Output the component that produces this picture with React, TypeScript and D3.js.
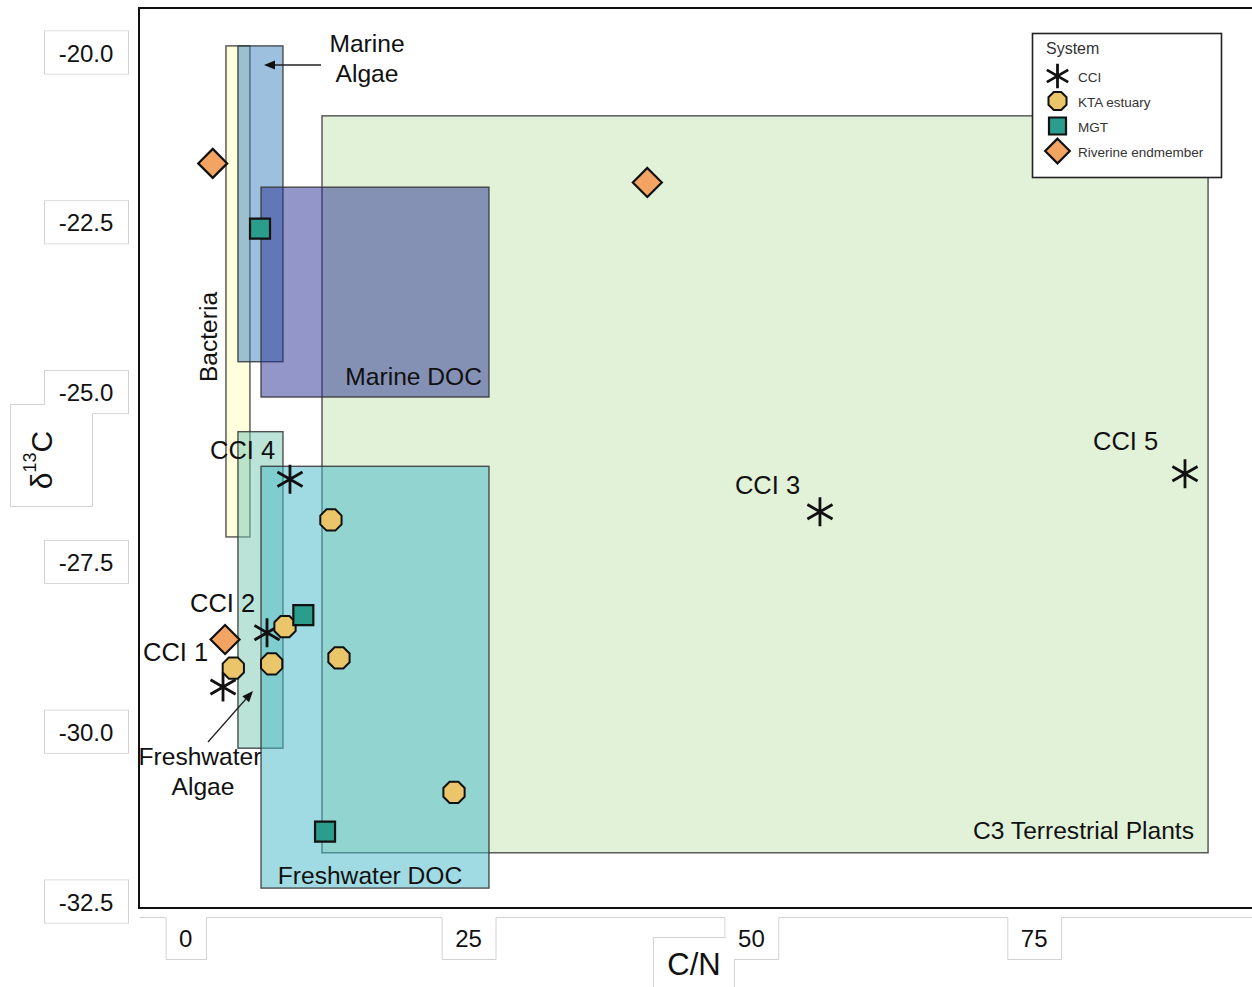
import React from "react";
import * as d3 from "d3";

// ---------- data ----------
const xTicks = [0, 25, 50, 75];
const yTicks = [-20, -22.5, -25, -27.5, -30, -32.5];

const sourceNames = ["C3 Terrestrial Plants", "Bacteria", "Freshwater Algae", "Marine Algae", "Marine DOC", "Freshwater DOC"];
const sourceCNMin = [12.04, 3.55, 4.61, 4.61, 6.65, 6.65];
const sourceCNMax = [90.37, 5.67, 8.59, 8.59, 26.8, 26.8];
const sourceD13CMax = [-20.94, -19.91, -25.59, -19.91, -21.99, -26.1];
const sourceD13CMin = [-31.79, -27.14, -30.25, -24.56, -25.08, -32.31];

const cciLabels = ["CCI 1", "CCI 2", "CCI 3", "CCI 4", "CCI 5"];
const cciCN = [3.29, 7.18, 56.06, 9.21, 88.33];
const cciD13C = [-29.35, -28.55, -26.77, -26.29, -26.21];

const ktaCN = [4.2, 7.59, 8.77, 12.83, 13.54, 23.71];
const ktaD13C = [-29.07, -29.01, -28.46, -26.89, -28.92, -30.9];

const mgtCN = [6.56, 10.39, 12.31];
const mgtD13C = [-22.6, -28.29, -31.48];

const rivCN = [2.38, 40.8, 3.47];
const rivD13C = [-21.64, -21.92, -28.65];

const legendNames = ["CCI", "KTA estuary", "MGT", "Riverine endmember"];

// ---------- styles ----------
const FONT = "'Liberation Sans', Arial, Helvetica, sans-serif";
const sourceFill: Record<string, [string, number]> = {
  "C3 Terrestrial Plants": ["#e2f2d8", 1],
  Bacteria: ["rgb(255,255,195)", 0.55],
  "Freshwater Algae": ["rgb(120,200,175)", 0.5],
  "Marine Algae": ["rgb(60,130,190)", 0.5],
  "Marine DOC": ["rgb(40,45,145)", 0.5],
  "Freshwater DOC": ["rgb(72,184,199)", 0.52],
};
const cciLabelOffset = [
  [-80, -35],
  [-77, -30],
  [-85, -27],
  [-80, -29],
  [-92, -33],
];
const KTA_FILL = "#ebc56a";
const MGT_FILL = "#2a9d8c";
const RIV_FILL = "#f4a462";
const BOX_STROKE = "#d2d2d2";
const LABEL_SIZE = 24.6;

// ---------- scales ----------
const W = 1252;
const H = 987;
const x = d3.scaleLinear().domain([0, 75]).range([185.8, 1034.2]);
const y = d3.scaleLinear().domain([-20, -32.5]).range([52, 901]);

const PLOT_L = 139;
const PLOT_T = 8;
const PLOT_B = 908;

// ---------- marker helpers ----------
function asteriskPath(r: number) {
  const p = d3.path();
  [90, 30, -30].forEach((deg) => {
    const a = (deg * Math.PI) / 180;
    p.moveTo(-r * Math.cos(a), -r * Math.sin(a));
    p.lineTo(r * Math.cos(a), r * Math.sin(a));
  });
  return p.toString();
}
function octagonPath(r: number) {
  const pts = d3.range(8).map((i) => {
    const a = ((22.5 + 45 * i) * Math.PI) / 180;
    return [r * Math.cos(a), r * Math.sin(a)] as [number, number];
  });
  return d3.line()(pts.concat([pts[0]])) + "Z";
}
function squarePath(s: number) {
  const h = s / 2;
  return `M${-h},${-h}H${h}V${h}H${-h}Z`;
}
function diamondPath(r: number) {
  return `M0,${-r}L${r},0L0,${r}L${-r},0Z`;
}

function Marker({ kind, cx, cy, scale = 1 }: { kind: string; cx: number; cy: number; scale?: number }) {
  if (kind === "CCI")
    return <path d={asteriskPath(14.5 * scale)} transform={`translate(${cx},${cy})`} stroke="#111" strokeWidth={2.8} fill="none" />;
  if (kind === "KTA estuary")
    return <path d={octagonPath(11.5 * scale)} transform={`translate(${cx},${cy})`} fill={KTA_FILL} stroke="#111" strokeWidth={2} />;
  if (kind === "MGT")
    return <path d={squarePath(20 * scale)} transform={`translate(${cx},${cy})`} fill={MGT_FILL} stroke="#111" strokeWidth={2.2} />;
  return <path d={diamondPath(14.5 * scale)} transform={`translate(${cx},${cy})`} fill={RIV_FILL} stroke="#111" strokeWidth={2.2} />;
}

function Arrow({ x1, y1, x2, y2 }: { x1: number; y1: number; x2: number; y2: number }) {
  const a = Math.atan2(y2 - y1, x2 - x1);
  const L = 11;
  const Wd = 4.5;
  const bx = x2 - L * Math.cos(a);
  const by = y2 - L * Math.sin(a);
  const px = -Math.sin(a) * Wd;
  const py = Math.cos(a) * Wd;
  return (
    <g>
      <line x1={x1} y1={y1} x2={bx} y2={by} stroke="#222" strokeWidth={1.3} />
      <path d={`M${x2},${y2}L${bx + px},${by + py}L${bx - px},${by - py}Z`} fill="#111" />
    </g>
  );
}

export default function App() {
  // x tick boxes
  const xBoxes = xTicks.map((t) => {
    const w = String(t).length * 13.4 + 27;
    return { t, l: x(t) - w / 2, r: x(t) + w / 2 };
  });
  const XB_T = 917;
  const XB_B = 959;
  let xStrip = `M${PLOT_L},${XB_T}`;
  xBoxes.forEach((b) => {
    xStrip += `H${b.l}V${XB_B}H${b.r}V${XB_T}`;
  });
  xStrip += `H${W + 10}`;
  const box50 = xBoxes[2];

  // y tick boxes
  const yBoxes = yTicks.map((t) => ({ t, x: 44, y: y(t) - 21.5, w: 84, h: 43 }));
  const dBox = { x: 10, y: 404, w: 82, h: 102 };

  const sources = sourceNames.map((n, i) => ({
    n,
    x0: x(sourceCNMin[i]),
    x1: x(sourceCNMax[i]),
    y0: y(sourceD13CMax[i]),
    y1: y(sourceD13CMin[i]),
  }));

  return (
    <svg width={W} height={H} style={{ position: "absolute", left: 0, top: 0, background: "#fff" }} fontFamily={FONT}>
      <rect x={0} y={0} width={W} height={H} fill="#fff" />

      {/* y tick boxes: strokes then fills (union outline) */}
      {[...yBoxes, dBox].map((b, i) => (
        <rect key={"ys" + i} x={b.x + 0.5} y={b.y + 0.5} width={b.w} height={b.h} fill="none" stroke={BOX_STROKE} strokeWidth={1} />
      ))}
      {[...yBoxes, dBox].map((b, i) => (
        <rect key={"yf" + i} x={b.x + 1} y={b.y + 1} width={b.w - 1} height={b.h - 1} fill="#fff" />
      ))}
      {yTicks.map((t) => (
        <text key={"yt" + t} x={86} y={y(t) + 1} textAnchor="middle" dominantBaseline="central" fontSize={24} fill="#111">
          {t.toFixed(1)}
        </text>
      ))}
      <text transform={`translate(41,460) rotate(-90)`} textAnchor="middle" dominantBaseline="central" fontSize={30} fill="#111">
        δ<tspan fontSize={18} dy={-11}>13</tspan>
        <tspan dy={11}>C</tspan>
      </text>

      {/* x tick boxes */}
      <path d={xStrip} fill="none" stroke={BOX_STROKE} strokeWidth={1} transform="translate(0.5,0.5)" />
      <rect x={653.5} y={937.5} width={81} height={70} fill="#fff" stroke={BOX_STROKE} strokeWidth={1} />
      <rect x={box50.l + 1.2} y={XB_T - 1} width={box50.r - box50.l - 1.4} height={XB_B - XB_T + 1} fill="#fff" />
      {xTicks.map((t) => (
        <text key={"xt" + t} x={x(t)} y={938} textAnchor="middle" dominantBaseline="central" fontSize={24} fill="#111">
          {t}
        </text>
      ))}
      <text x={694} y={964} textAnchor="middle" dominantBaseline="central" fontSize={31} fill="#111">
        C/N
      </text>

      {/* source boxes */}
      {sources.map((s) => (
        <rect
          key={s.n}
          x={s.x0}
          y={s.y0}
          width={s.x1 - s.x0}
          height={s.y1 - s.y0}
          fill={sourceFill[s.n][0]}
          fillOpacity={sourceFill[s.n][1]}
          stroke="#333"
          strokeOpacity={0.85}
          strokeWidth={1.4}
        />
      ))}

      {/* plot frame */}
      <path d={`M${W + 10},${PLOT_T}H${PLOT_L}V${PLOT_B}H${W + 10}`} fill="none" stroke="#111" strokeWidth={2} />

      {/* source labels */}
      <text x={367} y={43} textAnchor="middle" dominantBaseline="central" fontSize={LABEL_SIZE} fill="#111">Marine</text>
      <text x={367} y={73} textAnchor="middle" dominantBaseline="central" fontSize={LABEL_SIZE} fill="#111">Algae</text>
      <Arrow x1={321} y1={65} x2={264} y2={65} />
      <text transform={`translate(208,337) rotate(-90)`} textAnchor="middle" dominantBaseline="central" fontSize={LABEL_SIZE} fill="#111">
        Bacteria
      </text>
      <text x={482} y={376} textAnchor="end" dominantBaseline="central" fontSize={LABEL_SIZE} fill="#111">Marine DOC</text>
      <text x={200} y={756} textAnchor="middle" dominantBaseline="central" fontSize={LABEL_SIZE} fill="#111">Freshwater</text>
      <text x={203} y={786} textAnchor="middle" dominantBaseline="central" fontSize={LABEL_SIZE} fill="#111">Algae</text>
      <Arrow x1={208} y1={742} x2={253} y2={691} />
      <text x={370} y={875} textAnchor="middle" dominantBaseline="central" fontSize={LABEL_SIZE} fill="#111">Freshwater DOC</text>
      <text x={1194} y={830} textAnchor="end" dominantBaseline="central" fontSize={LABEL_SIZE} fill="#111">C3 Terrestrial Plants</text>

      {/* points */}
      {cciCN.map((v, i) => (
        <Marker key={"c" + i} kind="CCI" cx={x(v)} cy={y(cciD13C[i])} />
      ))}
      {ktaCN.map((v, i) => (
        <Marker key={"k" + i} kind="KTA estuary" cx={x(v)} cy={y(ktaD13C[i])} />
      ))}
      {mgtCN.map((v, i) => (
        <Marker key={"m" + i} kind="MGT" cx={x(v)} cy={y(mgtD13C[i])} />
      ))}
      {rivCN.map((v, i) => (
        <Marker key={"r" + i} kind="Riverine endmember" cx={x(v)} cy={y(rivD13C[i])} />
      ))}

      {/* CCI labels */}
      {cciLabels.map((l, i) => (
        <text
          key={l}
          x={x(cciCN[i]) + cciLabelOffset[i][0]}
          y={y(cciD13C[i]) + cciLabelOffset[i][1]}
          dominantBaseline="central"
          fontSize={25.5}
          fill="#111"
        >
          {l}
        </text>
      ))}

      {/* legend */}
      <rect x={1032.5} y={33.5} width={189} height={144} fill="#fff" stroke="#222" strokeWidth={1.6} />
      <text x={1046} y={48} dominantBaseline="central" fontSize={16} fill="#333">System</text>
      {legendNames.map((n, i) => (
        <g key={n}>
          <Marker kind={n} cx={1057.5} cy={76 + i * 25} scale={0.85} />
          <text x={1078} y={77 + i * 25} dominantBaseline="central" fontSize={13.5} fill="#333">
            {n}
          </text>
        </g>
      ))}
    </svg>
  );
}
